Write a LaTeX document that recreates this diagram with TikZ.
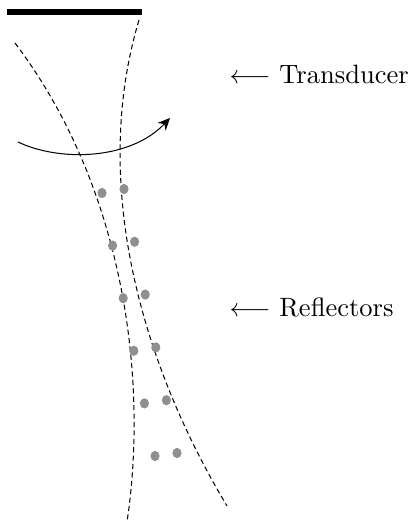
\documentclass[tikz,border=0pt]{standalone}
\usetikzlibrary{arrows.meta, shapes.geometric}
\definecolor{cdot}{HTML}{8F8F8F}
\tikzset{
  every picture/.style={x=0.01378cm, y=-0.01378cm, line width=0.4pt},
  beam/.style={dash pattern=on 2pt off 1.3pt},
  sweep/.style={-{Stealth[length=4.8pt, width=4.4pt]}},
  reflector/.style={ellipse, fill=cdot, draw=none, inner sep=0pt, minimum width=3.6pt, minimum height=4pt},
  tag/.style={anchor=base west, inner sep=0pt, font=\fontsize{10.4}{12.5}\selectfont},
}
\begin{document}
\begin{tikzpicture}
  \useasboundingbox (0,0) rectangle (412,522);
  \fill (7,9) rectangle (142,15);
  \draw[beam] (15,43) .. controls (124,187) and (148.5,378) .. (127,522);
  \draw[beam] (139,20) .. controls (92.8,174) and (134.6,352) .. (227,506);
  \draw[sweep] (18,142) .. controls (60,162) and (130,160) .. (170,118);
  \foreach \i in {0,...,5} {
    \node[reflector] (l\i) at ({102+10.6*\i},{193+52.6*\i}) {};
    \node[reflector] (r\i) at ({124+10.6*\i},{189+52.8*\i}) {};
  }
  \node[tag] (transducer) at (229,84) {$\longleftarrow$ Transducer};
  \node[tag] (reflectors) at (229,317) {$\longleftarrow$ Reflectors};
\end{tikzpicture}
\end{document}
